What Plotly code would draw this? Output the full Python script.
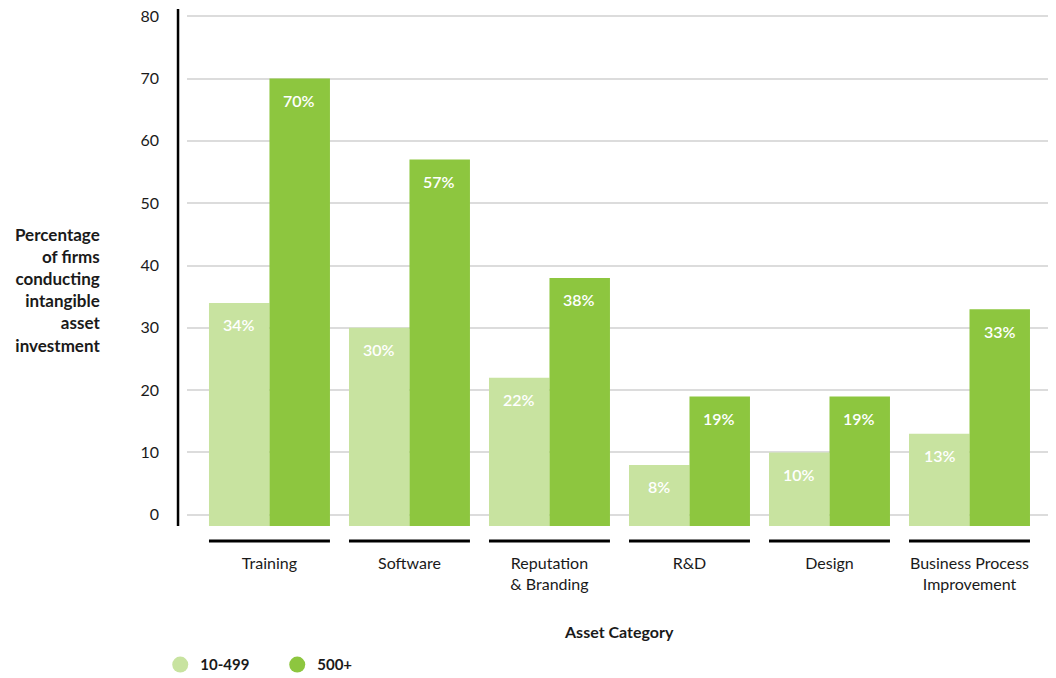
import plotly.graph_objects as go

categories = ["Training", "Software", "Reputation<br>& Branding", "R&D", "Design", "Business Process<br>Improvement"]
small_firms = [34, 30, 22, 8, 10, 13]      # 10-499
large_firms = [70, 57, 38, 19, 19, 33]     # 500+
series_names = ["10-499", "500+"]
y_ticks = [0, 10, 20, 30, 40, 50, 60, 70, 80]

LIGHT = "#c8e3a0"
DARK = "#8dc63f"
TEXT = "#1a1a1a"
FONT = "Lato"
BASE = -1.8

fig = go.Figure()
for name, vals, col in [(series_names[0], small_firms, LIGHT), (series_names[1], large_firms, DARK)]:
    fig.add_trace(go.Bar(
        x=categories, y=[v - BASE for v in vals], base=BASE, name=name,
        marker=dict(color=col, line=dict(width=0)), showlegend=False,
        hoverinfo="skip"))
    fig.add_trace(go.Scatter(
        x=[None], y=[None], mode="markers", name=name,
        marker=dict(color=col, size=16, symbol="circle"), showlegend=True))

# value labels
for i, cat in enumerate(categories):
    for vals, shift in [(small_firms, -30), (large_firms, 30)]:
        fig.add_annotation(x=cat, y=vals[i], text=f"{vals[i]}%", showarrow=False,
                           xshift=shift, yshift=-22, yanchor="middle",
                           font=dict(family=FONT, size=16, color="white", weight=600))
    # bracket line under each category group
    fig.add_shape(type="line", xref="x", yref="paper", x0=i - 0.432, x1=i + 0.432,
                  y0=-0.029, y1=-0.029, line=dict(color="black", width=3))

# y axis line (offset left of plot area)
fig.add_shape(type="line", xref="paper", yref="paper", x0=-0.0104, x1=-0.0104,
              y0=0, y1=1.002, line=dict(color="black", width=2.5))

# y axis title
fig.add_annotation(xref="paper", yref="paper", x=-0.098, y=0.457, xanchor="right", yanchor="middle",
                   align="right", showarrow=False,
                   text="Percentage<br>of firms<br>conducting<br>intangible<br>asset<br>investment",
                   font=dict(family=FONT, size=17, color=TEXT, weight="bold"))
# x axis title
fig.add_annotation(xref="paper", yref="paper", x=0.5, y=-0.205, xanchor="center", yanchor="middle",
                   showarrow=False, text="Asset Category",
                   font=dict(family=FONT, size=16, color=TEXT, weight="bold"))

fig.update_layout(
    width=1056, height=678,
    margin=dict(l=179, r=14, t=2, b=160, autoexpand=False),
    paper_bgcolor="white", plot_bgcolor="white",
    barmode="group", bargap=0.136, bargroupgap=0,
    font=dict(family=FONT, size=16, color=TEXT),
    legend=dict(orientation="h", x=-0.031, xanchor="left", y=-0.269, yanchor="middle",
                font=dict(family=FONT, size=15, color=TEXT, weight="bold"),
                entrywidth=72, entrywidthmode="pixels", itemsizing="trace"),
    xaxis=dict(range=[-0.589, 5.575], showgrid=False, showline=False, zeroline=False,
               ticks="", ticklabelstandoff=26, tickfont=dict(family=FONT, size=16, color=TEXT)),
    yaxis=dict(range=[BASE, 81], tickvals=y_ticks, showgrid=True, gridcolor="#dcdcdc", gridwidth=1.5,
               zeroline=False, showline=False, ticks="", ticklabelstandoff=27,
               ticklabeloverflow="allow",
               tickfont=dict(family=FONT, size=16, color=TEXT)),
)
fig.write_html("out.html")
